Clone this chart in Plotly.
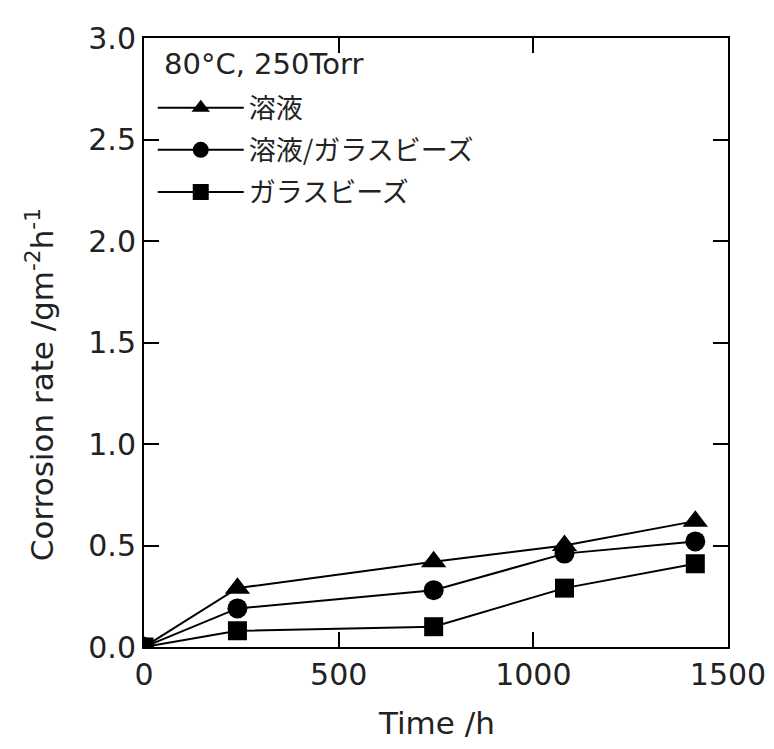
import plotly.graph_objects as go

time_h = [0, 240, 744, 1080, 1416]
solution = [0.0, 0.29, 0.42, 0.50, 0.62]
solution_beads = [0.0, 0.19, 0.28, 0.46, 0.52]
beads = [0.0, 0.08, 0.10, 0.29, 0.41]

names = ["溶液", "溶液/ガラスビーズ", "ガラスビーズ"]
series = [solution, solution_beads, beads]
symbols = ["triangle-up", "circle", "square"]
sizes = [22, 20, 19]

x_title = "Time /h"
y_title = "Corrosion rate /gm<sup>-2</sup>h<sup>-1</sup>"
condition_label = "80°C, 250Torr"

fig = go.Figure()
for i, (nm, ys, sym, sz) in enumerate(zip(names, series, symbols, sizes)):
    fig.add_trace(go.Scatter(
        x=time_h, y=ys, name=nm, mode="lines+markers",
        line=dict(color="black", width=2),
        marker=dict(symbol=sym, size=sz, color="black"),
        legendgroup=str(i),
    ))

font_main = "DejaVu Sans"
axis_common = dict(
    showline=True, linecolor="black", linewidth=2, mirror="ticks",
    ticks="inside", ticklen=15, tickwidth=1.5, tickcolor="black",
    showgrid=False, zeroline=False,
    tickfont=dict(family=font_main, size=30, color="#222"),
)

fig.update_layout(
    width=774, height=749,
    margin=dict(l=136, r=54, t=26, b=110),
    paper_bgcolor="white", plot_bgcolor="white",
    xaxis=dict(range=[0, 1500], tickvals=[0, 500, 1000, 1500], **axis_common),
    yaxis=dict(range=[0, 3.0], tickvals=[0, 0.5, 1.0, 1.5, 2.0, 2.5, 3.0],
               tickformat=".1f", **axis_common),
    legend=dict(
        x=0.015, y=0.925, xanchor="left", yanchor="top",
        bgcolor="rgba(0,0,0,0)",
        font=dict(family="Noto Sans CJK JP", size=27, color="#222"),
        tracegroupgap=4, itemwidth=86,
    ),
    showlegend=True,
    annotations=[
        dict(text=condition_label, xref="paper", yref="paper", x=0.03, y=0.958,
             xanchor="left", yanchor="middle", showarrow=False,
             font=dict(family=font_main, size=29, color="#222")),
        dict(text=x_title, xref="paper", yref="paper", x=0.5, y=-0.125,
             xanchor="center", yanchor="middle", showarrow=False,
             font=dict(family=font_main, size=31, color="#222")),
        dict(text=y_title, xref="paper", yref="paper", x=-0.178, y=0.43,
             xanchor="center", yanchor="middle", textangle=-90, showarrow=False,
             font=dict(family=font_main, size=31, color="#222")),
    ],
)

fig.write_html("out.html")
